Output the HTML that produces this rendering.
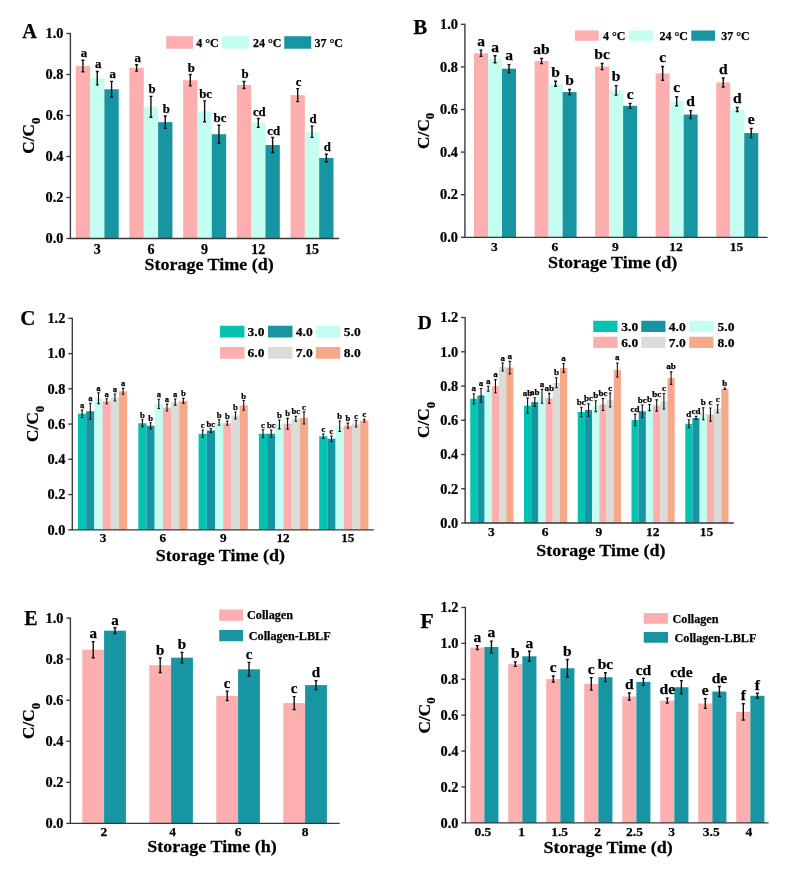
<!DOCTYPE html>
<html><head><meta charset="utf-8"><title>C/C0 storage stability bar charts</title>
<style>html,body{margin:0;padding:0;background:#fff;}svg{display:block;will-change:transform;}text{stroke:#000;stroke-width:0.25;}</style></head>
<body><svg width="788" height="871" viewBox="0 0 788 871" font-family="'Liberation Serif', 'Times New Roman', serif" font-weight="bold" fill="#000" stroke-linejoin="round"><rect x="75.75" y="66.01" width="14.33" height="172.49" fill="#FCAFAE"/>
<rect x="90.08" y="78.18" width="14.33" height="160.32" fill="#C3FEF1"/>
<rect x="104.41" y="89.30" width="14.33" height="149.20" fill="#1795A3"/>
<path d="M82.92 60.31V71.71M81.42 60.31h3M81.42 71.71h3" stroke="#111" stroke-width="1.4" fill="none"/>
<text x="83.92" y="57.31" font-size="12.8" text-anchor="middle" >a</text>
<path d="M97.25 71.48V84.88M95.75 71.48h3M95.75 84.88h3" stroke="#111" stroke-width="1.4" fill="none"/>
<text x="98.25" y="68.48" font-size="12.8" text-anchor="middle" >a</text>
<path d="M111.58 81.40V97.20M110.08 81.40h3M110.08 97.20h3" stroke="#111" stroke-width="1.4" fill="none"/>
<text x="112.58" y="78.40" font-size="12.8" text-anchor="middle" >a</text>
<rect x="129.44" y="67.95" width="14.33" height="170.55" fill="#FCAFAE"/>
<rect x="143.77" y="106.81" width="14.33" height="131.69" fill="#C3FEF1"/>
<rect x="158.10" y="122.14" width="14.33" height="116.36" fill="#1795A3"/>
<path d="M136.60 64.75V71.15M135.10 64.75h3M135.10 71.15h3" stroke="#111" stroke-width="1.4" fill="none"/>
<text x="137.60" y="61.75" font-size="12.8" text-anchor="middle" >a</text>
<path d="M150.94 96.41V117.21M149.44 96.41h3M149.44 117.21h3" stroke="#111" stroke-width="1.4" fill="none"/>
<text x="151.94" y="93.41" font-size="12.8" text-anchor="middle" >b</text>
<path d="M165.26 115.94V128.34M163.76 115.94h3M163.76 128.34h3" stroke="#111" stroke-width="1.4" fill="none"/>
<text x="166.26" y="112.94" font-size="12.8" text-anchor="middle" >b</text>
<rect x="183.13" y="80.22" width="14.33" height="158.28" fill="#FCAFAE"/>
<rect x="197.46" y="111.31" width="14.33" height="127.19" fill="#C3FEF1"/>
<rect x="211.79" y="134.21" width="14.33" height="104.29" fill="#1795A3"/>
<path d="M190.29 74.52V85.92M188.79 74.52h3M188.79 85.92h3" stroke="#111" stroke-width="1.4" fill="none"/>
<text x="191.29" y="71.52" font-size="12.8" text-anchor="middle" >b</text>
<path d="M204.62 100.91V121.71M203.12 100.91h3M203.12 121.71h3" stroke="#111" stroke-width="1.4" fill="none"/>
<text x="205.62" y="97.91" font-size="12.8" text-anchor="middle" >bc</text>
<path d="M218.95 125.21V143.21M217.45 125.21h3M217.45 143.21h3" stroke="#111" stroke-width="1.4" fill="none"/>
<text x="219.95" y="122.21" font-size="12.8" text-anchor="middle" >bc</text>
<rect x="236.82" y="84.93" width="14.33" height="153.57" fill="#FCAFAE"/>
<rect x="251.15" y="122.96" width="14.33" height="115.54" fill="#C3FEF1"/>
<rect x="265.48" y="145.05" width="14.33" height="93.45" fill="#1795A3"/>
<path d="M243.98 81.43V88.43M242.48 81.43h3M242.48 88.43h3" stroke="#111" stroke-width="1.4" fill="none"/>
<text x="244.98" y="78.43" font-size="12.8" text-anchor="middle" >b</text>
<path d="M258.31 118.56V127.36M256.81 118.56h3M256.81 127.36h3" stroke="#111" stroke-width="1.4" fill="none"/>
<text x="259.31" y="115.56" font-size="12.8" text-anchor="middle" >cd</text>
<path d="M272.65 137.55V152.55M271.15 137.55h3M271.15 152.55h3" stroke="#111" stroke-width="1.4" fill="none"/>
<text x="273.65" y="134.55" font-size="12.8" text-anchor="middle" >cd</text>
<rect x="290.51" y="95.15" width="14.33" height="143.35" fill="#FCAFAE"/>
<rect x="304.84" y="131.76" width="14.33" height="106.74" fill="#C3FEF1"/>
<rect x="319.17" y="157.93" width="14.33" height="80.57" fill="#1795A3"/>
<path d="M297.68 88.65V101.65M296.18 88.65h3M296.18 101.65h3" stroke="#111" stroke-width="1.4" fill="none"/>
<text x="298.68" y="85.65" font-size="12.8" text-anchor="middle" >c</text>
<path d="M312.00 126.16V137.36M310.50 126.16h3M310.50 137.36h3" stroke="#111" stroke-width="1.4" fill="none"/>
<text x="313.00" y="123.16" font-size="12.8" text-anchor="middle" >d</text>
<path d="M326.34 154.18V161.68M324.84 154.18h3M324.84 161.68h3" stroke="#111" stroke-width="1.4" fill="none"/>
<text x="327.34" y="151.18" font-size="12.8" text-anchor="middle" >d</text>
<path d="M70.4 32.90V238.50H339.25" stroke="#383838" stroke-width="1.35" fill="none"/>
<path d="M66.40 238.50H70.4" stroke="#383838" stroke-width="1.35"/>
<text transform="translate(63.40,243.28) scale(0.99,1)" font-size="14.5" text-anchor="end" >0.0</text>
<path d="M66.40 197.50H70.4" stroke="#383838" stroke-width="1.35"/>
<text transform="translate(63.40,202.28) scale(0.99,1)" font-size="14.5" text-anchor="end" >0.2</text>
<path d="M66.40 156.50H70.4" stroke="#383838" stroke-width="1.35"/>
<text transform="translate(63.40,161.28) scale(0.99,1)" font-size="14.5" text-anchor="end" >0.4</text>
<path d="M66.40 115.50H70.4" stroke="#383838" stroke-width="1.35"/>
<text transform="translate(63.40,120.28) scale(0.99,1)" font-size="14.5" text-anchor="end" >0.6</text>
<path d="M66.40 74.50H70.4" stroke="#383838" stroke-width="1.35"/>
<text transform="translate(63.40,79.28) scale(0.99,1)" font-size="14.5" text-anchor="end" >0.8</text>
<path d="M66.40 33.50H70.4" stroke="#383838" stroke-width="1.35"/>
<text transform="translate(63.40,38.28) scale(0.99,1)" font-size="14.5" text-anchor="end" >1.0</text>
<text x="97.25" y="254.20" font-size="14" text-anchor="middle" >3</text>
<text x="150.94" y="254.20" font-size="14" text-anchor="middle" >6</text>
<text x="204.62" y="254.20" font-size="14" text-anchor="middle" >9</text>
<text x="258.31" y="254.20" font-size="14" text-anchor="middle" >12</text>
<text x="312.00" y="254.20" font-size="14" text-anchor="middle" >15</text>
<text transform="translate(209.10,270.20) scale(1.06,1)" font-size="17" text-anchor="middle" >Storage Time (d)</text>
<text transform="translate(34.40,135.70) rotate(-90)" font-size="17.3" text-anchor="middle">C/C<tspan font-size="12.8" dy="5.4">0</tspan></text>
<text x="22.20" y="37.90" font-size="20.3" text-anchor="start" >A</text>
<rect x="166.25" y="36.25" width="26.75" height="12.5" fill="#FCAFAE"/>
<text x="196.25" y="46.58" font-size="12" text-anchor="start" >4 °C</text>
<rect x="222" y="36.25" width="26.75" height="12.5" fill="#C3FEF1"/>
<text x="253.00" y="46.58" font-size="12" text-anchor="start" >24 °C</text>
<rect x="284.25" y="36.25" width="27" height="12.5" fill="#1795A3"/>
<text x="314.50" y="46.58" font-size="12" text-anchor="start" >37 °C</text>
<rect x="474.00" y="53.26" width="14.00" height="184.04" fill="#FCAFAE"/>
<rect x="488.00" y="59.31" width="14.00" height="177.99" fill="#C3FEF1"/>
<rect x="502.00" y="68.66" width="14.00" height="168.64" fill="#1795A3"/>
<path d="M481.00 50.16V56.36M479.50 50.16h3M479.50 56.36h3" stroke="#111" stroke-width="1.4" fill="none"/>
<text x="481.00" y="45.96" font-size="15.5" text-anchor="middle" >a</text>
<path d="M495.00 55.81V62.81M493.50 55.81h3M493.50 62.81h3" stroke="#111" stroke-width="1.4" fill="none"/>
<text x="495.00" y="51.61" font-size="15.5" text-anchor="middle" >a</text>
<path d="M509.00 64.66V72.66M507.50 64.66h3M507.50 72.66h3" stroke="#111" stroke-width="1.4" fill="none"/>
<text x="509.00" y="60.46" font-size="15.5" text-anchor="middle" >a</text>
<rect x="534.56" y="61.01" width="14.00" height="176.29" fill="#FCAFAE"/>
<rect x="548.56" y="83.75" width="14.00" height="153.55" fill="#C3FEF1"/>
<rect x="562.56" y="92.04" width="14.00" height="145.26" fill="#1795A3"/>
<path d="M541.56 58.41V63.61M540.06 58.41h3M540.06 63.61h3" stroke="#111" stroke-width="1.4" fill="none"/>
<text x="541.56" y="54.21" font-size="15.5" text-anchor="middle" >ab</text>
<path d="M555.56 81.25V86.25M554.06 81.25h3M554.06 86.25h3" stroke="#111" stroke-width="1.4" fill="none"/>
<text x="555.56" y="77.05" font-size="15.5" text-anchor="middle" >b</text>
<path d="M569.56 89.44V94.64M568.06 89.44h3M568.06 94.64h3" stroke="#111" stroke-width="1.4" fill="none"/>
<text x="569.56" y="85.24" font-size="15.5" text-anchor="middle" >b</text>
<rect x="595.12" y="66.54" width="14.00" height="170.76" fill="#FCAFAE"/>
<rect x="609.12" y="90.34" width="14.00" height="146.96" fill="#C3FEF1"/>
<rect x="623.12" y="105.85" width="14.00" height="131.45" fill="#1795A3"/>
<path d="M602.12 63.44V69.64M600.62 63.44h3M600.62 69.64h3" stroke="#111" stroke-width="1.4" fill="none"/>
<text x="602.12" y="59.24" font-size="15.5" text-anchor="middle" >bc</text>
<path d="M616.12 85.59V95.09M614.62 85.59h3M614.62 95.09h3" stroke="#111" stroke-width="1.4" fill="none"/>
<text x="616.12" y="81.39" font-size="15.5" text-anchor="middle" >b</text>
<path d="M630.12 103.35V108.35M628.62 103.35h3M628.62 108.35h3" stroke="#111" stroke-width="1.4" fill="none"/>
<text x="630.12" y="99.15" font-size="15.5" text-anchor="middle" >c</text>
<rect x="655.68" y="73.34" width="14.00" height="163.96" fill="#FCAFAE"/>
<rect x="669.68" y="101.18" width="14.00" height="136.12" fill="#C3FEF1"/>
<rect x="683.68" y="114.56" width="14.00" height="122.74" fill="#1795A3"/>
<path d="M662.68 66.44V80.24M661.18 66.44h3M661.18 80.24h3" stroke="#111" stroke-width="1.4" fill="none"/>
<text x="662.68" y="62.24" font-size="15.5" text-anchor="middle" >c</text>
<path d="M676.68 96.68V105.68M675.18 96.68h3M675.18 105.68h3" stroke="#111" stroke-width="1.4" fill="none"/>
<text x="676.68" y="92.48" font-size="15.5" text-anchor="middle" >c</text>
<path d="M690.68 110.66V118.46M689.18 110.66h3M689.18 118.46h3" stroke="#111" stroke-width="1.4" fill="none"/>
<text x="690.68" y="106.46" font-size="15.5" text-anchor="middle" >d</text>
<rect x="716.24" y="82.47" width="14.00" height="154.83" fill="#FCAFAE"/>
<rect x="730.24" y="109.46" width="14.00" height="127.84" fill="#C3FEF1"/>
<rect x="744.24" y="133.05" width="14.00" height="104.25" fill="#1795A3"/>
<path d="M723.24 77.97V86.97M721.74 77.97h3M721.74 86.97h3" stroke="#111" stroke-width="1.4" fill="none"/>
<text x="723.24" y="73.77" font-size="15.5" text-anchor="middle" >d</text>
<path d="M737.24 107.46V111.46M735.74 107.46h3M735.74 111.46h3" stroke="#111" stroke-width="1.4" fill="none"/>
<text x="737.24" y="103.26" font-size="15.5" text-anchor="middle" >d</text>
<path d="M751.24 128.45V137.65M749.74 128.45h3M749.74 137.65h3" stroke="#111" stroke-width="1.4" fill="none"/>
<text x="751.24" y="124.25" font-size="15.5" text-anchor="middle" >e</text>
<path d="M464.9 23.70V237.30H767.5" stroke="#383838" stroke-width="1.35" fill="none"/>
<path d="M460.90 237.30H464.9" stroke="#383838" stroke-width="1.35"/>
<text transform="translate(457.90,242.09) scale(0.99,1)" font-size="14.5" text-anchor="end" >0.0</text>
<path d="M460.90 194.70H464.9" stroke="#383838" stroke-width="1.35"/>
<text transform="translate(457.90,199.49) scale(0.99,1)" font-size="14.5" text-anchor="end" >0.2</text>
<path d="M460.90 152.10H464.9" stroke="#383838" stroke-width="1.35"/>
<text transform="translate(457.90,156.89) scale(0.99,1)" font-size="14.5" text-anchor="end" >0.4</text>
<path d="M460.90 109.50H464.9" stroke="#383838" stroke-width="1.35"/>
<text transform="translate(457.90,114.28) scale(0.99,1)" font-size="14.5" text-anchor="end" >0.6</text>
<path d="M460.90 66.90H464.9" stroke="#383838" stroke-width="1.35"/>
<text transform="translate(457.90,71.69) scale(0.99,1)" font-size="14.5" text-anchor="end" >0.8</text>
<path d="M460.90 24.30H464.9" stroke="#383838" stroke-width="1.35"/>
<text transform="translate(457.90,29.09) scale(0.99,1)" font-size="14.5" text-anchor="end" >1.0</text>
<text x="494.30" y="250.50" font-size="13.5" text-anchor="middle" >3</text>
<text x="554.86" y="250.50" font-size="13.5" text-anchor="middle" >6</text>
<text x="615.42" y="250.50" font-size="13.5" text-anchor="middle" >9</text>
<text x="675.98" y="250.50" font-size="13.5" text-anchor="middle" >12</text>
<text x="736.54" y="250.50" font-size="13.5" text-anchor="middle" >15</text>
<text transform="translate(612.60,268.30) scale(1.06,1)" font-size="17" text-anchor="middle" >Storage Time (d)</text>
<text transform="translate(429.00,130.80) rotate(-90)" font-size="17.3" text-anchor="middle">C/C<tspan font-size="12.8" dy="5.4">0</tspan></text>
<text x="413.30" y="33.90" font-size="20.8" text-anchor="start" >B</text>
<rect x="575" y="30.5" width="23.75" height="10.25" fill="#FCAFAE"/>
<text x="603.00" y="39.70" font-size="12" text-anchor="start" >4 °C</text>
<rect x="628.75" y="30.5" width="24.25" height="10.25" fill="#C3FEF1"/>
<text x="659.50" y="39.70" font-size="12" text-anchor="start" >24 °C</text>
<rect x="691.25" y="30.5" width="23.75" height="10.25" fill="#1795A3"/>
<text x="721.25" y="39.70" font-size="12" text-anchor="start" >37 °C</text>
<rect x="78.00" y="413.70" width="8.20" height="116.10" fill="#05C3B3"/>
<rect x="86.20" y="411.24" width="8.20" height="118.56" fill="#1795A3"/>
<rect x="94.40" y="398.19" width="8.20" height="131.61" fill="#C3FEF1"/>
<rect x="102.60" y="401.19" width="8.20" height="128.61" fill="#FCAFAE"/>
<rect x="110.80" y="397.49" width="8.20" height="132.31" fill="#D9DCD7"/>
<rect x="119.00" y="391.32" width="8.20" height="138.48" fill="#F6A98A"/>
<path d="M82.10 409.95V417.45M80.85 409.95h2.5M80.85 417.45h2.5" stroke="#111" stroke-width="1.1" fill="none"/>
<text x="82.10" y="407.95" font-size="8.6" text-anchor="middle" >a</text>
<path d="M90.30 403.24V419.24M89.05 403.24h2.5M89.05 419.24h2.5" stroke="#111" stroke-width="1.1" fill="none"/>
<text x="90.30" y="401.24" font-size="8.6" text-anchor="middle" >a</text>
<path d="M98.50 392.79V403.59M97.25 392.79h2.5M97.25 403.59h2.5" stroke="#111" stroke-width="1.1" fill="none"/>
<text x="98.50" y="390.79" font-size="8.6" text-anchor="middle" >a</text>
<path d="M106.70 398.69V403.69M105.45 398.69h2.5M105.45 403.69h2.5" stroke="#111" stroke-width="1.1" fill="none"/>
<text x="106.70" y="396.69" font-size="8.6" text-anchor="middle" >a</text>
<path d="M114.90 393.99V400.99M113.65 393.99h2.5M113.65 400.99h2.5" stroke="#111" stroke-width="1.1" fill="none"/>
<text x="114.90" y="391.99" font-size="8.6" text-anchor="middle" >a</text>
<path d="M123.10 388.42V394.22M121.85 388.42h2.5M121.85 394.22h2.5" stroke="#111" stroke-width="1.1" fill="none"/>
<text x="123.10" y="386.42" font-size="8.6" text-anchor="middle" >a</text>
<rect x="138.30" y="423.22" width="8.20" height="106.58" fill="#05C3B3"/>
<rect x="146.50" y="425.69" width="8.20" height="104.11" fill="#1795A3"/>
<rect x="154.70" y="403.83" width="8.20" height="125.97" fill="#C3FEF1"/>
<rect x="162.90" y="407.54" width="8.20" height="122.26" fill="#FCAFAE"/>
<rect x="171.10" y="402.07" width="8.20" height="127.73" fill="#D9DCD7"/>
<rect x="179.30" y="400.84" width="8.20" height="128.96" fill="#F6A98A"/>
<path d="M142.40 419.82V426.62M141.15 419.82h2.5M141.15 426.62h2.5" stroke="#111" stroke-width="1.1" fill="none"/>
<text x="142.40" y="417.82" font-size="8.6" text-anchor="middle" >b</text>
<path d="M150.60 422.79V428.59M149.35 422.79h2.5M149.35 428.59h2.5" stroke="#111" stroke-width="1.1" fill="none"/>
<text x="150.60" y="420.79" font-size="8.6" text-anchor="middle" >b</text>
<path d="M158.80 399.23V408.43M157.55 399.23h2.5M157.55 408.43h2.5" stroke="#111" stroke-width="1.1" fill="none"/>
<text x="158.80" y="397.23" font-size="8.6" text-anchor="middle" >a</text>
<path d="M167.00 404.14V410.94M165.75 404.14h2.5M165.75 410.94h2.5" stroke="#111" stroke-width="1.1" fill="none"/>
<text x="167.00" y="402.14" font-size="8.6" text-anchor="middle" >a</text>
<path d="M175.20 398.97V405.17M173.95 398.97h2.5M173.95 405.17h2.5" stroke="#111" stroke-width="1.1" fill="none"/>
<text x="175.20" y="396.97" font-size="8.6" text-anchor="middle" >a</text>
<path d="M183.40 398.34V403.34M182.15 398.34h2.5M182.15 403.34h2.5" stroke="#111" stroke-width="1.1" fill="none"/>
<text x="183.40" y="396.34" font-size="8.6" text-anchor="middle" >b</text>
<rect x="198.60" y="433.80" width="8.20" height="96.00" fill="#05C3B3"/>
<rect x="206.80" y="430.45" width="8.20" height="99.35" fill="#1795A3"/>
<rect x="215.00" y="422.52" width="8.20" height="107.28" fill="#C3FEF1"/>
<rect x="223.20" y="423.22" width="8.20" height="106.58" fill="#FCAFAE"/>
<rect x="231.40" y="415.47" width="8.20" height="114.33" fill="#D9DCD7"/>
<rect x="239.60" y="405.42" width="8.20" height="124.38" fill="#F6A98A"/>
<path d="M202.70 430.05V437.55M201.45 430.05h2.5M201.45 437.55h2.5" stroke="#111" stroke-width="1.1" fill="none"/>
<text x="202.70" y="428.05" font-size="8.6" text-anchor="middle" >c</text>
<path d="M210.90 428.55V432.35M209.65 428.55h2.5M209.65 432.35h2.5" stroke="#111" stroke-width="1.1" fill="none"/>
<text x="210.90" y="426.55" font-size="8.6" text-anchor="middle" >bc</text>
<path d="M219.10 419.77V425.27M217.85 419.77h2.5M217.85 425.27h2.5" stroke="#111" stroke-width="1.1" fill="none"/>
<text x="219.10" y="417.77" font-size="8.6" text-anchor="middle" >b</text>
<path d="M227.30 421.12V425.32M226.05 421.12h2.5M226.05 425.32h2.5" stroke="#111" stroke-width="1.1" fill="none"/>
<text x="227.30" y="419.12" font-size="8.6" text-anchor="middle" >b</text>
<path d="M235.50 411.97V418.97M234.25 411.97h2.5M234.25 418.97h2.5" stroke="#111" stroke-width="1.1" fill="none"/>
<text x="235.50" y="409.97" font-size="8.6" text-anchor="middle" >b</text>
<path d="M243.70 400.52V410.32M242.45 400.52h2.5M242.45 410.32h2.5" stroke="#111" stroke-width="1.1" fill="none"/>
<text x="243.70" y="398.52" font-size="8.6" text-anchor="middle" >b</text>
<rect x="258.90" y="433.80" width="8.20" height="96.00" fill="#05C3B3"/>
<rect x="267.10" y="433.80" width="8.20" height="96.00" fill="#1795A3"/>
<rect x="275.30" y="424.45" width="8.20" height="105.34" fill="#C3FEF1"/>
<rect x="283.50" y="423.75" width="8.20" height="106.05" fill="#FCAFAE"/>
<rect x="291.70" y="418.81" width="8.20" height="110.98" fill="#D9DCD7"/>
<rect x="299.90" y="417.93" width="8.20" height="111.87" fill="#F6A98A"/>
<path d="M263.00 429.80V437.80M261.75 429.80h2.5M261.75 437.80h2.5" stroke="#111" stroke-width="1.1" fill="none"/>
<text x="263.00" y="427.80" font-size="8.6" text-anchor="middle" >c</text>
<path d="M271.20 430.05V437.55M269.95 430.05h2.5M269.95 437.55h2.5" stroke="#111" stroke-width="1.1" fill="none"/>
<text x="271.20" y="428.05" font-size="8.6" text-anchor="middle" >bc</text>
<path d="M279.40 420.06V428.85M278.15 420.06h2.5M278.15 428.85h2.5" stroke="#111" stroke-width="1.1" fill="none"/>
<text x="279.40" y="418.06" font-size="8.6" text-anchor="middle" >b</text>
<path d="M287.60 418.35V429.15M286.35 418.35h2.5M286.35 429.15h2.5" stroke="#111" stroke-width="1.1" fill="none"/>
<text x="287.60" y="416.35" font-size="8.6" text-anchor="middle" >b</text>
<path d="M295.80 416.31V421.31M294.55 416.31h2.5M294.55 421.31h2.5" stroke="#111" stroke-width="1.1" fill="none"/>
<text x="295.80" y="414.31" font-size="8.6" text-anchor="middle" >bc</text>
<path d="M304.00 411.83V424.03M302.75 411.83h2.5M302.75 424.03h2.5" stroke="#111" stroke-width="1.1" fill="none"/>
<text x="304.00" y="409.83" font-size="8.6" text-anchor="middle" >c</text>
<rect x="319.20" y="436.26" width="8.20" height="93.54" fill="#05C3B3"/>
<rect x="327.40" y="438.73" width="8.20" height="91.07" fill="#1795A3"/>
<rect x="335.60" y="426.22" width="8.20" height="103.58" fill="#C3FEF1"/>
<rect x="343.80" y="425.69" width="8.20" height="104.11" fill="#FCAFAE"/>
<rect x="352.00" y="423.75" width="8.20" height="106.05" fill="#D9DCD7"/>
<rect x="360.20" y="420.58" width="8.20" height="109.22" fill="#F6A98A"/>
<path d="M323.30 434.01V438.51M322.05 434.01h2.5M322.05 438.51h2.5" stroke="#111" stroke-width="1.1" fill="none"/>
<text x="323.30" y="432.01" font-size="8.6" text-anchor="middle" >c</text>
<path d="M331.50 435.98V441.48M330.25 435.98h2.5M330.25 441.48h2.5" stroke="#111" stroke-width="1.1" fill="none"/>
<text x="331.50" y="433.98" font-size="8.6" text-anchor="middle" >c</text>
<path d="M339.70 420.97V431.47M338.45 420.97h2.5M338.45 431.47h2.5" stroke="#111" stroke-width="1.1" fill="none"/>
<text x="339.70" y="418.97" font-size="8.6" text-anchor="middle" >b</text>
<path d="M347.90 423.09V428.29M346.65 423.09h2.5M346.65 428.29h2.5" stroke="#111" stroke-width="1.1" fill="none"/>
<text x="347.90" y="421.09" font-size="8.6" text-anchor="middle" >b</text>
<path d="M356.10 420.50V427.00M354.85 420.50h2.5M354.85 427.00h2.5" stroke="#111" stroke-width="1.1" fill="none"/>
<text x="356.10" y="418.50" font-size="8.6" text-anchor="middle" >c</text>
<path d="M364.30 419.18V421.98M363.05 419.18h2.5M363.05 421.98h2.5" stroke="#111" stroke-width="1.1" fill="none"/>
<text x="364.30" y="417.18" font-size="8.6" text-anchor="middle" >c</text>
<path d="M72.3 317.76V529.80H373.8" stroke="#383838" stroke-width="1.35" fill="none"/>
<path d="M68.30 529.80H72.3" stroke="#383838" stroke-width="1.35"/>
<text transform="translate(65.30,534.58) scale(0.99,1)" font-size="14.5" text-anchor="end" >0.0</text>
<path d="M68.30 494.56H72.3" stroke="#383838" stroke-width="1.35"/>
<text transform="translate(65.30,499.34) scale(0.99,1)" font-size="14.5" text-anchor="end" >0.2</text>
<path d="M68.30 459.32H72.3" stroke="#383838" stroke-width="1.35"/>
<text transform="translate(65.30,464.10) scale(0.99,1)" font-size="14.5" text-anchor="end" >0.4</text>
<path d="M68.30 424.08H72.3" stroke="#383838" stroke-width="1.35"/>
<text transform="translate(65.30,428.86) scale(0.99,1)" font-size="14.5" text-anchor="end" >0.6</text>
<path d="M68.30 388.84H72.3" stroke="#383838" stroke-width="1.35"/>
<text transform="translate(65.30,393.62) scale(0.99,1)" font-size="14.5" text-anchor="end" >0.8</text>
<path d="M68.30 353.60H72.3" stroke="#383838" stroke-width="1.35"/>
<text transform="translate(65.30,358.38) scale(0.99,1)" font-size="14.5" text-anchor="end" >1.0</text>
<path d="M68.30 318.36H72.3" stroke="#383838" stroke-width="1.35"/>
<text transform="translate(65.30,323.15) scale(0.99,1)" font-size="14.5" text-anchor="end" >1.2</text>
<text x="103.10" y="542.40" font-size="13.2" text-anchor="middle" >3</text>
<text x="162.90" y="542.40" font-size="13.2" text-anchor="middle" >6</text>
<text x="223.20" y="542.40" font-size="13.2" text-anchor="middle" >9</text>
<text x="283.00" y="542.40" font-size="13.2" text-anchor="middle" >12</text>
<text x="347.80" y="542.40" font-size="13.2" text-anchor="middle" >15</text>
<text transform="translate(220.30,560.90) scale(1.06,1)" font-size="17" text-anchor="middle" >Storage Time (d)</text>
<text transform="translate(38.10,423.80) rotate(-90)" font-size="17.3" text-anchor="middle">C/C<tspan font-size="12.8" dy="5.4">0</tspan></text>
<text x="20.30" y="324.90" font-size="21" text-anchor="start" >C</text>
<rect x="220" y="325.75" width="24.5" height="11.75" fill="#05C3B3"/>
<text x="247.50" y="336.21" font-size="13.5" text-anchor="start" >3.0</text>
<rect x="268" y="325.75" width="24.5" height="11.75" fill="#1795A3"/>
<text x="295.75" y="336.21" font-size="13.5" text-anchor="start" >4.0</text>
<rect x="315.75" y="325.75" width="24.5" height="11.75" fill="#C3FEF1"/>
<text x="343.75" y="336.21" font-size="13.5" text-anchor="start" >5.0</text>
<rect x="220" y="347" width="24.5" height="11.75" fill="#FCAFAE"/>
<text x="247.50" y="357.46" font-size="13.5" text-anchor="start" >6.0</text>
<rect x="268" y="347" width="24.5" height="11.75" fill="#D9DCD7"/>
<text x="295.75" y="357.46" font-size="13.5" text-anchor="start" >7.0</text>
<rect x="315.75" y="347" width="24.5" height="11.75" fill="#F6A98A"/>
<text x="343.75" y="357.46" font-size="13.5" text-anchor="start" >8.0</text>
<rect x="470.25" y="398.76" width="7.20" height="124.24" fill="#05C3B3"/>
<rect x="477.45" y="395.42" width="7.20" height="127.58" fill="#1795A3"/>
<rect x="484.65" y="388.76" width="7.20" height="134.24" fill="#C3FEF1"/>
<rect x="491.85" y="386.20" width="7.20" height="136.80" fill="#FCAFAE"/>
<rect x="499.05" y="367.07" width="7.20" height="155.93" fill="#D9DCD7"/>
<rect x="506.25" y="367.58" width="7.20" height="155.42" fill="#F6A98A"/>
<path d="M473.85 393.76V403.76M472.60 393.76h2.5M472.60 403.76h2.5" stroke="#111" stroke-width="1.1" fill="none"/>
<text x="473.85" y="391.26" font-size="9" text-anchor="middle" >a</text>
<path d="M481.05 388.52V402.32M479.80 388.52h2.5M479.80 402.32h2.5" stroke="#111" stroke-width="1.1" fill="none"/>
<text x="481.05" y="386.02" font-size="9" text-anchor="middle" >a</text>
<path d="M488.25 386.26V391.26M487.00 386.26h2.5M487.00 391.26h2.5" stroke="#111" stroke-width="1.1" fill="none"/>
<text x="488.25" y="383.76" font-size="9" text-anchor="middle" >a</text>
<path d="M495.45 379.60V392.80M494.20 379.60h2.5M494.20 392.80h2.5" stroke="#111" stroke-width="1.1" fill="none"/>
<text x="495.45" y="377.10" font-size="9" text-anchor="middle" >a</text>
<path d="M502.65 363.07V371.07M501.40 363.07h2.5M501.40 371.07h2.5" stroke="#111" stroke-width="1.1" fill="none"/>
<text x="502.65" y="360.57" font-size="9" text-anchor="middle" >a</text>
<path d="M509.85 361.33V373.83M508.60 361.33h2.5M508.60 373.83h2.5" stroke="#111" stroke-width="1.1" fill="none"/>
<text x="509.85" y="358.83" font-size="9" text-anchor="middle" >a</text>
<rect x="524.00" y="405.67" width="7.20" height="117.33" fill="#05C3B3"/>
<rect x="531.20" y="402.09" width="7.20" height="120.91" fill="#1795A3"/>
<rect x="538.40" y="396.28" width="7.20" height="126.72" fill="#C3FEF1"/>
<rect x="545.60" y="398.33" width="7.20" height="124.67" fill="#FCAFAE"/>
<rect x="552.80" y="382.79" width="7.20" height="140.21" fill="#D9DCD7"/>
<rect x="560.00" y="367.93" width="7.20" height="155.07" fill="#F6A98A"/>
<path d="M527.60 398.17V413.17M526.35 398.17h2.5M526.35 413.17h2.5" stroke="#111" stroke-width="1.1" fill="none"/>
<text x="527.60" y="395.67" font-size="9" text-anchor="middle" >ab</text>
<path d="M534.80 397.69V406.49M533.55 397.69h2.5M533.55 406.49h2.5" stroke="#111" stroke-width="1.1" fill="none"/>
<text x="534.80" y="395.19" font-size="9" text-anchor="middle" >ab</text>
<path d="M542.00 389.38V403.18M540.75 389.38h2.5M540.75 403.18h2.5" stroke="#111" stroke-width="1.1" fill="none"/>
<text x="542.00" y="386.88" font-size="9" text-anchor="middle" >a</text>
<path d="M549.20 393.33V403.33M547.95 393.33h2.5M547.95 403.33h2.5" stroke="#111" stroke-width="1.1" fill="none"/>
<text x="549.20" y="390.83" font-size="9" text-anchor="middle" >ab</text>
<path d="M556.40 377.79V387.79M555.15 377.79h2.5M555.15 387.79h2.5" stroke="#111" stroke-width="1.1" fill="none"/>
<text x="556.40" y="375.29" font-size="9" text-anchor="middle" >b</text>
<path d="M563.60 363.53V372.33M562.35 363.53h2.5M562.35 372.33h2.5" stroke="#111" stroke-width="1.1" fill="none"/>
<text x="563.60" y="361.03" font-size="9" text-anchor="middle" >a</text>
<rect x="577.75" y="411.99" width="7.20" height="111.01" fill="#05C3B3"/>
<rect x="584.95" y="409.94" width="7.20" height="113.06" fill="#1795A3"/>
<rect x="592.15" y="406.19" width="7.20" height="116.81" fill="#C3FEF1"/>
<rect x="599.35" y="404.48" width="7.20" height="118.52" fill="#FCAFAE"/>
<rect x="606.55" y="400.04" width="7.20" height="122.96" fill="#D9DCD7"/>
<rect x="613.75" y="369.98" width="7.20" height="153.02" fill="#F6A98A"/>
<path d="M581.35 407.24V416.74M580.10 407.24h2.5M580.10 416.74h2.5" stroke="#111" stroke-width="1.1" fill="none"/>
<text x="581.35" y="404.74" font-size="9" text-anchor="middle" >bc</text>
<path d="M588.55 403.69V416.19M587.30 403.69h2.5M587.30 416.19h2.5" stroke="#111" stroke-width="1.1" fill="none"/>
<text x="588.55" y="401.19" font-size="9" text-anchor="middle" >bc</text>
<path d="M595.75 400.79V411.59M594.50 400.79h2.5M594.50 411.59h2.5" stroke="#111" stroke-width="1.1" fill="none"/>
<text x="595.75" y="398.29" font-size="9" text-anchor="middle" >b</text>
<path d="M602.95 398.48V410.48M601.70 398.48h2.5M601.70 410.48h2.5" stroke="#111" stroke-width="1.1" fill="none"/>
<text x="602.95" y="395.98" font-size="9" text-anchor="middle" >bc</text>
<path d="M610.15 393.14V406.94M608.90 393.14h2.5M608.90 406.94h2.5" stroke="#111" stroke-width="1.1" fill="none"/>
<text x="610.15" y="390.64" font-size="9" text-anchor="middle" >c</text>
<path d="M617.35 362.98V376.98M616.10 362.98h2.5M616.10 376.98h2.5" stroke="#111" stroke-width="1.1" fill="none"/>
<text x="617.35" y="360.48" font-size="9" text-anchor="middle" >a</text>
<rect x="631.50" y="420.02" width="7.20" height="102.98" fill="#05C3B3"/>
<rect x="638.70" y="411.31" width="7.20" height="111.69" fill="#1795A3"/>
<rect x="645.90" y="407.55" width="7.20" height="115.45" fill="#C3FEF1"/>
<rect x="653.10" y="405.50" width="7.20" height="117.50" fill="#FCAFAE"/>
<rect x="660.30" y="401.23" width="7.20" height="121.77" fill="#D9DCD7"/>
<rect x="667.50" y="378.17" width="7.20" height="144.83" fill="#F6A98A"/>
<path d="M635.10 414.42V425.62M633.85 414.42h2.5M633.85 425.62h2.5" stroke="#111" stroke-width="1.1" fill="none"/>
<text x="635.10" y="411.92" font-size="9" text-anchor="middle" >cd</text>
<path d="M642.30 405.06V417.56M641.05 405.06h2.5M641.05 417.56h2.5" stroke="#111" stroke-width="1.1" fill="none"/>
<text x="642.30" y="402.56" font-size="9" text-anchor="middle" >bc</text>
<path d="M649.50 404.45V410.65M648.25 404.45h2.5M648.25 410.65h2.5" stroke="#111" stroke-width="1.1" fill="none"/>
<text x="649.50" y="401.95" font-size="9" text-anchor="middle" >b</text>
<path d="M656.70 399.90V411.10M655.45 399.90h2.5M655.45 411.10h2.5" stroke="#111" stroke-width="1.1" fill="none"/>
<text x="656.70" y="397.40" font-size="9" text-anchor="middle" >bc</text>
<path d="M663.90 393.48V408.98M662.65 393.48h2.5M662.65 408.98h2.5" stroke="#111" stroke-width="1.1" fill="none"/>
<text x="663.90" y="390.98" font-size="9" text-anchor="middle" >c</text>
<path d="M671.10 371.92V384.42M669.85 371.92h2.5M669.85 384.42h2.5" stroke="#111" stroke-width="1.1" fill="none"/>
<text x="671.10" y="369.42" font-size="9" text-anchor="middle" >ab</text>
<rect x="685.25" y="423.78" width="7.20" height="99.22" fill="#05C3B3"/>
<rect x="692.45" y="417.97" width="7.20" height="105.03" fill="#1795A3"/>
<rect x="699.65" y="413.70" width="7.20" height="109.30" fill="#C3FEF1"/>
<rect x="706.85" y="414.55" width="7.20" height="108.45" fill="#FCAFAE"/>
<rect x="714.05" y="408.75" width="7.20" height="114.25" fill="#D9DCD7"/>
<rect x="721.25" y="388.76" width="7.20" height="134.24" fill="#F6A98A"/>
<path d="M688.85 419.78V427.78M687.60 419.78h2.5M687.60 427.78h2.5" stroke="#111" stroke-width="1.1" fill="none"/>
<text x="688.85" y="417.28" font-size="9" text-anchor="middle" >d</text>
<path d="M696.05 416.37V419.57M694.80 416.37h2.5M694.80 419.57h2.5" stroke="#111" stroke-width="1.1" fill="none"/>
<text x="696.05" y="413.87" font-size="9" text-anchor="middle" >cd</text>
<path d="M703.25 407.70V419.70M702.00 407.70h2.5M702.00 419.70h2.5" stroke="#111" stroke-width="1.1" fill="none"/>
<text x="703.25" y="405.20" font-size="9" text-anchor="middle" >b</text>
<path d="M710.45 407.95V421.15M709.20 407.95h2.5M709.20 421.15h2.5" stroke="#111" stroke-width="1.1" fill="none"/>
<text x="710.45" y="405.45" font-size="9" text-anchor="middle" >c</text>
<path d="M717.65 404.75V412.75M716.40 404.75h2.5M716.40 412.75h2.5" stroke="#111" stroke-width="1.1" fill="none"/>
<text x="717.65" y="402.25" font-size="9" text-anchor="middle" >c</text>
<path d="M724.85 388.01V389.51M723.60 388.01h2.5M723.60 389.51h2.5" stroke="#111" stroke-width="1.1" fill="none"/>
<text x="724.85" y="385.51" font-size="9" text-anchor="middle" >b</text>
<path d="M465.15 316.96V523.00H733.8" stroke="#383838" stroke-width="1.35" fill="none"/>
<path d="M461.15 523.00H465.15" stroke="#383838" stroke-width="1.35"/>
<text transform="translate(458.15,527.78) scale(0.99,1)" font-size="14.5" text-anchor="end" >0.0</text>
<path d="M461.15 488.76H465.15" stroke="#383838" stroke-width="1.35"/>
<text transform="translate(458.15,493.55) scale(0.99,1)" font-size="14.5" text-anchor="end" >0.2</text>
<path d="M461.15 454.52H465.15" stroke="#383838" stroke-width="1.35"/>
<text transform="translate(458.15,459.31) scale(0.99,1)" font-size="14.5" text-anchor="end" >0.4</text>
<path d="M461.15 420.28H465.15" stroke="#383838" stroke-width="1.35"/>
<text transform="translate(458.15,425.06) scale(0.99,1)" font-size="14.5" text-anchor="end" >0.6</text>
<path d="M461.15 386.04H465.15" stroke="#383838" stroke-width="1.35"/>
<text transform="translate(458.15,390.82) scale(0.99,1)" font-size="14.5" text-anchor="end" >0.8</text>
<path d="M461.15 351.80H465.15" stroke="#383838" stroke-width="1.35"/>
<text transform="translate(458.15,356.59) scale(0.99,1)" font-size="14.5" text-anchor="end" >1.0</text>
<path d="M461.15 317.56H465.15" stroke="#383838" stroke-width="1.35"/>
<text transform="translate(458.15,322.35) scale(0.99,1)" font-size="14.5" text-anchor="end" >1.2</text>
<text x="491.45" y="535.50" font-size="13.5" text-anchor="middle" >3</text>
<text x="545.20" y="535.50" font-size="13.5" text-anchor="middle" >6</text>
<text x="598.95" y="535.50" font-size="13.5" text-anchor="middle" >9</text>
<text x="652.70" y="535.50" font-size="13.5" text-anchor="middle" >12</text>
<text x="706.45" y="535.50" font-size="13.5" text-anchor="middle" >15</text>
<text transform="translate(600.80,555.80) scale(1.06,1)" font-size="17" text-anchor="middle" >Storage Time (d)</text>
<text transform="translate(429.20,419.90) rotate(-90)" font-size="17.3" text-anchor="middle">C/C<tspan font-size="12.8" dy="5.4">0</tspan></text>
<text x="417.80" y="328.50" font-size="19.5" text-anchor="start" >D</text>
<rect x="593.25" y="320.75" width="24.25" height="11.25" fill="#05C3B3"/>
<text x="621.25" y="330.96" font-size="13.5" text-anchor="start" >3.0</text>
<rect x="641.25" y="320.75" width="24.25" height="11.25" fill="#1795A3"/>
<text x="668.75" y="330.96" font-size="13.5" text-anchor="start" >4.0</text>
<rect x="689.25" y="320.75" width="24.25" height="11.25" fill="#C3FEF1"/>
<text x="717.50" y="330.96" font-size="13.5" text-anchor="start" >5.0</text>
<rect x="593.25" y="336.75" width="24.25" height="11.25" fill="#FCAFAE"/>
<text x="621.25" y="346.96" font-size="13.5" text-anchor="start" >6.0</text>
<rect x="641.25" y="336.75" width="24.25" height="11.25" fill="#D9DCD7"/>
<text x="668.75" y="346.96" font-size="13.5" text-anchor="start" >7.0</text>
<rect x="689.25" y="336.75" width="24.25" height="11.25" fill="#F6A98A"/>
<text x="717.50" y="346.96" font-size="13.5" text-anchor="start" >8.0</text>
<rect x="82.30" y="649.69" width="21.80" height="173.71" fill="#FCAFAE"/>
<rect x="104.10" y="630.67" width="21.80" height="192.73" fill="#1795A3"/>
<path d="M93.20 641.59V657.79M91.70 641.59h3M91.70 657.79h3" stroke="#111" stroke-width="1.4" fill="none"/>
<text x="93.20" y="638.39" font-size="15" text-anchor="middle" >a</text>
<path d="M115.00 627.77V633.57M113.50 627.77h3M113.50 633.57h3" stroke="#111" stroke-width="1.4" fill="none"/>
<text x="115.00" y="624.57" font-size="15" text-anchor="middle" >a</text>
<rect x="149.30" y="665.23" width="21.80" height="158.17" fill="#FCAFAE"/>
<rect x="171.10" y="657.66" width="21.80" height="165.74" fill="#1795A3"/>
<path d="M160.20 657.98V672.48M158.70 657.98h3M158.70 672.48h3" stroke="#111" stroke-width="1.4" fill="none"/>
<text x="160.20" y="654.78" font-size="15" text-anchor="middle" >b</text>
<path d="M182.00 652.41V662.91M180.50 652.41h3M180.50 662.91h3" stroke="#111" stroke-width="1.4" fill="none"/>
<text x="182.00" y="649.21" font-size="15" text-anchor="middle" >b</text>
<rect x="216.30" y="695.91" width="21.80" height="127.49" fill="#FCAFAE"/>
<rect x="238.10" y="669.32" width="21.80" height="154.08" fill="#1795A3"/>
<path d="M227.20 691.16V700.66M225.70 691.16h3M225.70 700.66h3" stroke="#111" stroke-width="1.4" fill="none"/>
<text x="227.20" y="687.96" font-size="15" text-anchor="middle" >c</text>
<path d="M249.00 662.42V676.22M247.50 662.42h3M247.50 676.22h3" stroke="#111" stroke-width="1.4" fill="none"/>
<text x="249.00" y="659.22" font-size="15" text-anchor="middle" >c</text>
<rect x="283.30" y="703.06" width="21.80" height="120.34" fill="#FCAFAE"/>
<rect x="305.10" y="685.07" width="21.80" height="138.33" fill="#1795A3"/>
<path d="M294.20 696.66V709.46M292.70 696.66h3M292.70 709.46h3" stroke="#111" stroke-width="1.4" fill="none"/>
<text x="294.20" y="693.46" font-size="15" text-anchor="middle" >c</text>
<path d="M316.00 680.67V689.47M314.50 680.67h3M314.50 689.47h3" stroke="#111" stroke-width="1.4" fill="none"/>
<text x="316.00" y="677.47" font-size="15" text-anchor="middle" >d</text>
<path d="M70.4 617.50V823.40H339.7" stroke="#383838" stroke-width="1.35" fill="none"/>
<path d="M66.40 823.40H70.4" stroke="#383838" stroke-width="1.35"/>
<text transform="translate(63.40,828.18) scale(0.99,1)" font-size="14.5" text-anchor="end" >0.0</text>
<path d="M66.40 782.34H70.4" stroke="#383838" stroke-width="1.35"/>
<text transform="translate(63.40,787.12) scale(0.99,1)" font-size="14.5" text-anchor="end" >0.2</text>
<path d="M66.40 741.28H70.4" stroke="#383838" stroke-width="1.35"/>
<text transform="translate(63.40,746.06) scale(0.99,1)" font-size="14.5" text-anchor="end" >0.4</text>
<path d="M66.40 700.22H70.4" stroke="#383838" stroke-width="1.35"/>
<text transform="translate(63.40,705.00) scale(0.99,1)" font-size="14.5" text-anchor="end" >0.6</text>
<path d="M66.40 659.16H70.4" stroke="#383838" stroke-width="1.35"/>
<text transform="translate(63.40,663.94) scale(0.99,1)" font-size="14.5" text-anchor="end" >0.8</text>
<path d="M66.40 618.10H70.4" stroke="#383838" stroke-width="1.35"/>
<text transform="translate(63.40,622.88) scale(0.99,1)" font-size="14.5" text-anchor="end" >1.0</text>
<text x="103.90" y="835.90" font-size="13.5" text-anchor="middle" >2</text>
<text x="172.50" y="835.90" font-size="13.5" text-anchor="middle" >4</text>
<text x="238.20" y="835.90" font-size="13.5" text-anchor="middle" >6</text>
<text x="305.20" y="835.90" font-size="13.5" text-anchor="middle" >8</text>
<text transform="translate(212.00,851.90) scale(1.06,1)" font-size="17" text-anchor="middle" >Storage Time (h)</text>
<text transform="translate(34.20,720.90) rotate(-90)" font-size="17.3" text-anchor="middle">C/C<tspan font-size="12.8" dy="5.4">0</tspan></text>
<text x="24.30" y="625.30" font-size="20" text-anchor="start" >E</text>
<rect x="219.25" y="609.5" width="23.75" height="11.25" fill="#FCAFAE"/>
<text x="247.00" y="619.27" font-size="12.2" text-anchor="start" >Collagen</text>
<rect x="219.25" y="630" width="23.75" height="11.25" fill="#1795A3"/>
<text x="248.75" y="639.77" font-size="12.2" text-anchor="start" >Collagen-LBLF</text>
<rect x="470.25" y="647.54" width="14.10" height="175.31" fill="#FCAFAE"/>
<rect x="484.35" y="647.00" width="14.10" height="175.85" fill="#1795A3"/>
<path d="M477.30 645.64V649.44M475.80 645.64h3M475.80 649.44h3" stroke="#111" stroke-width="1.4" fill="none"/>
<text x="477.30" y="641.84" font-size="15.5" text-anchor="middle" >a</text>
<path d="M491.40 641.10V652.90M489.90 641.10h3M489.90 652.90h3" stroke="#111" stroke-width="1.4" fill="none"/>
<text x="491.40" y="637.30" font-size="15.5" text-anchor="middle" >a</text>
<rect x="508.25" y="664.16" width="14.10" height="158.69" fill="#FCAFAE"/>
<rect x="522.35" y="656.30" width="14.10" height="166.55" fill="#1795A3"/>
<path d="M515.30 661.91V666.41M513.80 661.91h3M513.80 666.41h3" stroke="#111" stroke-width="1.4" fill="none"/>
<text x="515.30" y="658.11" font-size="15.5" text-anchor="middle" >b</text>
<path d="M529.40 651.30V661.30M527.90 651.30h3M527.90 661.30h3" stroke="#111" stroke-width="1.4" fill="none"/>
<text x="529.40" y="647.50" font-size="15.5" text-anchor="middle" >a</text>
<rect x="546.25" y="679.00" width="14.10" height="143.85" fill="#FCAFAE"/>
<rect x="560.35" y="668.27" width="14.10" height="154.58" fill="#1795A3"/>
<path d="M553.30 676.00V682.00M551.80 676.00h3M551.80 682.00h3" stroke="#111" stroke-width="1.4" fill="none"/>
<text x="553.30" y="672.20" font-size="15.5" text-anchor="middle" >c</text>
<path d="M567.40 659.52V677.02M565.90 659.52h3M565.90 677.02h3" stroke="#111" stroke-width="1.4" fill="none"/>
<text x="567.40" y="655.73" font-size="15.5" text-anchor="middle" >b</text>
<rect x="584.25" y="683.83" width="14.10" height="139.02" fill="#FCAFAE"/>
<rect x="598.35" y="677.21" width="14.10" height="145.64" fill="#1795A3"/>
<path d="M591.30 677.58V690.08M589.80 677.58h3M589.80 690.08h3" stroke="#111" stroke-width="1.4" fill="none"/>
<text x="591.30" y="673.78" font-size="15.5" text-anchor="middle" >c</text>
<path d="M605.40 672.81V681.61M603.90 672.81h3M603.90 681.61h3" stroke="#111" stroke-width="1.4" fill="none"/>
<text x="605.40" y="669.01" font-size="15.5" text-anchor="middle" >bc</text>
<rect x="622.25" y="696.52" width="14.10" height="126.33" fill="#FCAFAE"/>
<rect x="636.35" y="681.86" width="14.10" height="140.99" fill="#1795A3"/>
<path d="M629.30 693.02V700.02M627.80 693.02h3M627.80 700.02h3" stroke="#111" stroke-width="1.4" fill="none"/>
<text x="629.30" y="689.22" font-size="15.5" text-anchor="middle" >d</text>
<path d="M643.40 678.36V685.36M641.90 678.36h3M641.90 685.36h3" stroke="#111" stroke-width="1.4" fill="none"/>
<text x="643.40" y="674.56" font-size="15.5" text-anchor="middle" >cd</text>
<rect x="660.25" y="700.63" width="14.10" height="122.22" fill="#FCAFAE"/>
<rect x="674.35" y="687.22" width="14.10" height="135.63" fill="#1795A3"/>
<path d="M667.30 698.13V703.13M665.80 698.13h3M665.80 703.13h3" stroke="#111" stroke-width="1.4" fill="none"/>
<text x="667.30" y="694.33" font-size="15.5" text-anchor="middle" >de</text>
<path d="M681.40 680.62V693.82M679.90 680.62h3M679.90 693.82h3" stroke="#111" stroke-width="1.4" fill="none"/>
<text x="681.40" y="676.82" font-size="15.5" text-anchor="middle" >cde</text>
<rect x="698.25" y="703.49" width="14.10" height="119.36" fill="#FCAFAE"/>
<rect x="712.35" y="691.51" width="14.10" height="131.34" fill="#1795A3"/>
<path d="M705.30 698.59V708.39M703.80 698.59h3M703.80 708.39h3" stroke="#111" stroke-width="1.4" fill="none"/>
<text x="705.30" y="694.79" font-size="15.5" text-anchor="middle" >e</text>
<path d="M719.40 686.51V696.51M717.90 686.51h3M717.90 696.51h3" stroke="#111" stroke-width="1.4" fill="none"/>
<text x="719.40" y="682.71" font-size="15.5" text-anchor="middle" >de</text>
<rect x="736.25" y="711.89" width="14.10" height="110.96" fill="#FCAFAE"/>
<rect x="750.35" y="695.80" width="14.10" height="127.05" fill="#1795A3"/>
<path d="M743.30 703.79V719.99M741.80 703.79h3M741.80 719.99h3" stroke="#111" stroke-width="1.4" fill="none"/>
<text x="743.30" y="699.99" font-size="15.5" text-anchor="middle" >f</text>
<path d="M757.40 693.30V698.30M755.90 693.30h3M755.90 698.30h3" stroke="#111" stroke-width="1.4" fill="none"/>
<text x="757.40" y="689.50" font-size="15.5" text-anchor="middle" >f</text>
<path d="M465.4 606.85V822.85H768.5" stroke="#383838" stroke-width="1.35" fill="none"/>
<path d="M461.40 822.85H465.4" stroke="#383838" stroke-width="1.35"/>
<text transform="translate(458.40,827.63) scale(0.99,1)" font-size="14.5" text-anchor="end" >0.0</text>
<path d="M461.40 786.95H465.4" stroke="#383838" stroke-width="1.35"/>
<text transform="translate(458.40,791.74) scale(0.99,1)" font-size="14.5" text-anchor="end" >0.2</text>
<path d="M461.40 751.05H465.4" stroke="#383838" stroke-width="1.35"/>
<text transform="translate(458.40,755.84) scale(0.99,1)" font-size="14.5" text-anchor="end" >0.4</text>
<path d="M461.40 715.15H465.4" stroke="#383838" stroke-width="1.35"/>
<text transform="translate(458.40,719.93) scale(0.99,1)" font-size="14.5" text-anchor="end" >0.6</text>
<path d="M461.40 679.25H465.4" stroke="#383838" stroke-width="1.35"/>
<text transform="translate(458.40,684.03) scale(0.99,1)" font-size="14.5" text-anchor="end" >0.8</text>
<path d="M461.40 643.35H465.4" stroke="#383838" stroke-width="1.35"/>
<text transform="translate(458.40,648.13) scale(0.99,1)" font-size="14.5" text-anchor="end" >1.0</text>
<path d="M461.40 607.45H465.4" stroke="#383838" stroke-width="1.35"/>
<text transform="translate(458.40,612.24) scale(0.99,1)" font-size="14.5" text-anchor="end" >1.2</text>
<text x="482.85" y="835.60" font-size="13.5" text-anchor="middle" >0.5</text>
<text x="521.55" y="835.60" font-size="13.5" text-anchor="middle" >1</text>
<text x="559.65" y="835.60" font-size="13.5" text-anchor="middle" >1.5</text>
<text x="597.55" y="835.60" font-size="13.5" text-anchor="middle" >2</text>
<text x="634.45" y="835.60" font-size="13.5" text-anchor="middle" >2.5</text>
<text x="671.65" y="835.60" font-size="13.5" text-anchor="middle" >3</text>
<text x="711.25" y="835.60" font-size="13.5" text-anchor="middle" >3.5</text>
<text x="748.85" y="835.60" font-size="13.5" text-anchor="middle" >4</text>
<text transform="translate(608.10,853.40) scale(1.06,1)" font-size="17" text-anchor="middle" >Storage Time (d)</text>
<text transform="translate(429.70,715.40) rotate(-90)" font-size="17.3" text-anchor="middle">C/C<tspan font-size="12.8" dy="5.4">0</tspan></text>
<text x="420.20" y="627.70" font-size="22" text-anchor="start" >F</text>
<rect x="643.75" y="613" width="24.25" height="10.75" fill="#FCAFAE"/>
<text x="672.50" y="622.52" font-size="12.2" text-anchor="start" >Collagen</text>
<rect x="643.75" y="632" width="24.25" height="10.75" fill="#1795A3"/>
<text x="674.50" y="641.52" font-size="12.2" text-anchor="start" >Collagen-LBLF</text></svg></body></html>
